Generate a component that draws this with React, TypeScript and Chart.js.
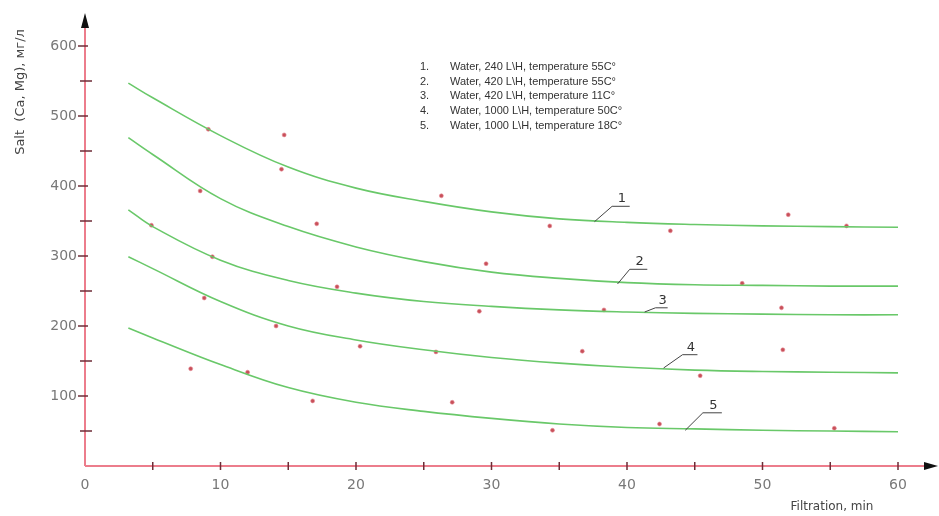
import { useEffect, useRef } from 'react';
import { Chart, registerables } from 'chart.js';

Chart.register(...registerables);

// Fitted curves (filtration time, min → salt content)
const curveX = [3.2, 5, 10, 15, 20, 25, 30, 35, 40, 45, 50, 55, 60];
const curve1 = [547, 526, 472, 427, 397, 378, 363, 353, 348, 345, 343, 342, 341];
const curve2 = [469, 445, 382, 342, 313, 292, 277, 268, 262, 259, 258, 257, 257];
const curve3 = [366, 342, 294, 265, 247, 235, 228, 223, 220, 218, 217, 216, 216];
const curve4 = [299, 282, 235, 200, 180, 166, 155, 147, 141, 137, 135, 134, 133];
const curve5 = [197, 183, 145, 112, 91, 78, 68, 60, 55, 53, 51, 50, 49];

// Measured points
const dots1X = [9.1, 14.7, 14.5, 26.3, 34.3, 43.2, 51.9, 56.2];
const dots1Y = [481, 473, 424, 386, 343, 336, 359, 343];
const dots2X = [8.5, 17.1, 29.6, 48.5];
const dots2Y = [393, 346, 289, 261];
const dots3X = [4.9, 9.4, 18.6, 29.1, 38.3, 51.4];
const dots3Y = [344, 299, 256, 221, 223, 226];
const dots4X = [8.8, 14.1, 20.3, 25.9, 36.7, 45.4, 51.5];
const dots4Y = [240, 200, 171, 163, 164, 129, 166];
const dots5X = [7.8, 12.0, 16.8, 27.1, 34.5, 42.4, 55.3];
const dots5Y = [139, 134, 93, 91, 51, 60, 54];

// Curve number labels with leader lines (data coords)
const curveLabels = ['1', '2', '3', '4', '5'];
const leaderX0 = [37.6, 39.3, 41.3, 42.7, 44.3];
const leaderY0 = [349, 260, 220, 140, 51];
const leaderX1 = [38.9, 40.2, 42.1, 44.1, 45.6];
const leaderY1 = [371, 281, 226, 159, 76];
const leaderX2 = [40.2, 41.5, 43.0, 45.2, 47.0];

const legendNums = ['1.', '2.', '3.', '4.', '5.'];
const legendTexts = [
  'Water, 240 L\\H, temperature 55C°',
  'Water, 420 L\\H, temperature 55C°',
  'Water, 420 L\\H, temperature 11C°',
  'Water, 1000 L\\H, temperature 50C°',
  'Water, 1000 L\\H, temperature 18C°',
];

const yTitle = 'Salt  (Ca, Mg), мг/л';
const xTitle = 'Filtration, min';

const xTickLabels = [0, 10, 20, 30, 40, 50, 60];
const yTickLabels = [100, 200, 300, 400, 500, 600];

const GREEN = 'rgb(105,200,105)';
const DOT = 'rgb(200,80,90)';
const AXIS = 'rgb(236,125,140)';
const TICK = 'rgb(110,45,55)';

const zip = (xs: number[], ys: number[]) => xs.map((x, i) => ({ x, y: ys[i] }));

export default function App() {
  const ref = useRef<HTMLCanvasElement | null>(null);
  useEffect(() => {
    const canvas = ref.current;
    if (!canvas) return;
    const curves = [curve1, curve2, curve3, curve4, curve5];
    const dots = [
      zip(dots1X, dots1Y),
      zip(dots2X, dots2Y),
      zip(dots3X, dots3Y),
      zip(dots4X, dots4Y),
      zip(dots5X, dots5Y),
    ];
    const lineSets = curves.map((c, i) => ({
      label: 'curve ' + (i + 1),
      data: zip(curveX, c),
      showLine: true,
      borderColor: GREEN,
      borderWidth: 1.6,
      pointRadius: 0,
      tension: 0.4,
      fill: false,
    }));
    const dotSets = dots.map((d, i) => ({
      label: 'points ' + (i + 1),
      data: d,
      showLine: false,
      pointRadius: 2,
      pointBackgroundColor: DOT,
      pointBorderColor: 'rgba(230,140,150,0.6)',
      pointBorderWidth: 1,
    }));

    const decor = {
      id: 'decor',
      afterDraw(chart: any) {
        const ctx = chart.ctx;
        const xs = chart.scales.x;
        const ys = chart.scales.y;
        const x0 = xs.getPixelForValue(0);
        const y0 = ys.getPixelForValue(0);
        ctx.save();
        // axes lines
        ctx.strokeStyle = AXIS;
        ctx.lineWidth = 2;
        ctx.beginPath();
        ctx.moveTo(x0, y0);
        ctx.lineTo(928, y0);
        ctx.moveTo(x0, y0);
        ctx.lineTo(x0, 24);
        ctx.stroke();
        // arrows
        ctx.fillStyle = '#111';
        ctx.beginPath();
        ctx.moveTo(924, y0 - 4);
        ctx.lineTo(938, y0);
        ctx.lineTo(924, y0 + 4);
        ctx.closePath();
        ctx.fill();
        ctx.beginPath();
        ctx.moveTo(x0 - 4, 28);
        ctx.lineTo(x0, 13);
        ctx.lineTo(x0 + 4, 28);
        ctx.closePath();
        ctx.fill();
        // ticks
        ctx.strokeStyle = TICK;
        ctx.lineWidth = 1.5;
        ctx.beginPath();
        for (let v = 50; v <= 600; v += 50) {
          const p = ys.getPixelForValue(v);
          const major = v % 100 === 0;
          ctx.moveTo(x0 - (major ? 7 : 5), p);
          ctx.lineTo(x0 + (major ? 3 : 7), p);
        }
        for (let v = 5; v <= 60; v += 5) {
          const p = xs.getPixelForValue(v);
          ctx.moveTo(p, y0 - 4);
          ctx.lineTo(p, y0 + 4);
        }
        ctx.stroke();
        // leader lines & curve numbers
        ctx.strokeStyle = '#444';
        ctx.lineWidth = 1;
        ctx.fillStyle = '#333';
        ctx.font = '13px "DejaVu Sans"';
        ctx.textAlign = 'center';
        ctx.textBaseline = 'bottom';
        curveLabels.forEach((t, i) => {
          const ax = xs.getPixelForValue(leaderX0[i]);
          const ay = ys.getPixelForValue(leaderY0[i]);
          const bx = xs.getPixelForValue(leaderX1[i]);
          const by = ys.getPixelForValue(leaderY1[i]);
          const cx = xs.getPixelForValue(leaderX2[i]);
          ctx.beginPath();
          ctx.moveTo(ax, ay);
          ctx.lineTo(bx, by);
          ctx.lineTo(cx, by);
          ctx.stroke();
          ctx.fillText(t, (bx + cx) / 2 + 1, by - 1);
        });
        // legend block
        ctx.font = '11px "Liberation Sans"';
        ctx.textAlign = 'left';
        ctx.textBaseline = 'middle';
        ctx.fillStyle = '#333';
        legendTexts.forEach((t, i) => {
          const yy = 67 + i * 14.7;
          ctx.fillText(legendNums[i], 420, yy);
          ctx.fillText(t, 450, yy);
        });
        // axis titles
        ctx.fillStyle = '#444';
        ctx.font = '12px "DejaVu Sans"';
        ctx.textAlign = 'center';
        ctx.fillText(xTitle, 832, 507);
        ctx.save();
        ctx.translate(21, 92);
        ctx.rotate(-Math.PI / 2);
        ctx.font = '13px "DejaVu Sans"';
        ctx.fillText(yTitle, 0, 0);
        ctx.restore();
        ctx.restore();
      },
    };

    const chart = new Chart(canvas, {
      type: 'scatter',
      data: { datasets: [...lineSets, ...dotSets] as any },
      options: {
        responsive: false,
        animation: false,
        layout: { padding: { top: 46, right: 41, left: 0, bottom: 0 } },
        plugins: { legend: { display: false }, tooltip: { enabled: false } },
        scales: {
          x: {
            type: 'linear',
            min: 0,
            max: 60,
            afterFit: (s: any) => {
              s.height = 50;
            },
            afterBuildTicks: (s: any) => {
              s.ticks = xTickLabels.map((v) => ({ value: v }));
            },
            grid: { display: false, drawTicks: false },
            border: { display: false },
            ticks: {
              padding: 11,
              color: 'rgb(120,120,120)',
              font: { family: 'DejaVu Sans', size: 14 },
            },
          },
          y: {
            type: 'linear',
            min: 0,
            max: 600,
            afterFit: (s: any) => {
              s.width = 85;
            },
            afterBuildTicks: (s: any) => {
              s.ticks = yTickLabels.map((v) => ({ value: v }));
            },
            grid: { display: false, drawTicks: false },
            border: { display: false },
            ticks: {
              padding: 8,
              color: 'rgb(120,120,120)',
              font: { family: 'DejaVu Sans', size: 14 },
            },
          },
        },
      },
      plugins: [decor],
    });
    return () => chart.destroy();
  }, []);

  return (
    <div style={{ position: 'absolute', left: 0, top: 0, width: 939, height: 516, background: '#fff' }}>
      <canvas ref={ref} width={939} height={516} style={{ display: 'block' }} />
    </div>
  );
}
